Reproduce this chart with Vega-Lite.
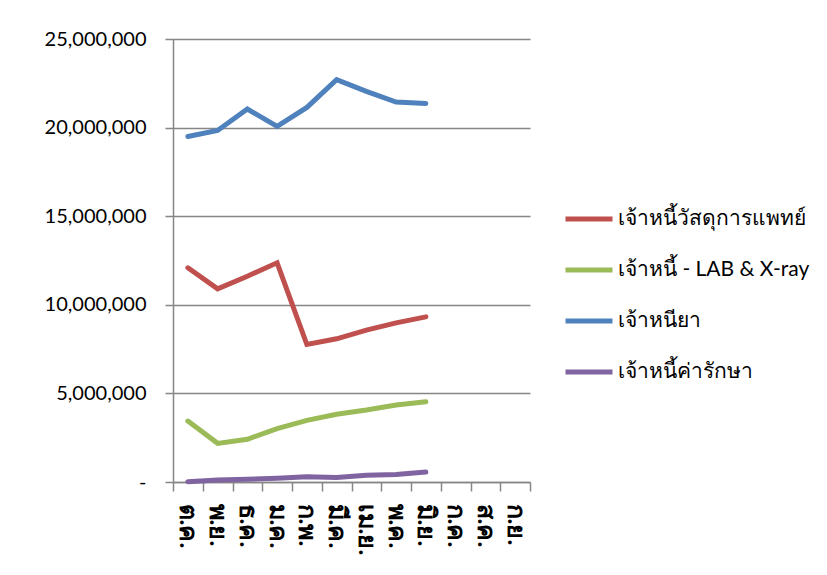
{
  "$schema": "https://vega.github.io/schema/vega-lite/v6.json",
  "width": 357,
  "height": 443,
  "autosize": {"type": "none"},
  "padding": {"left": 173, "top": 39, "right": 297, "bottom": 93},
  "background": "white",
  "config": {
    "view": {"stroke": null},
    "font": "Lato, Noto Sans, sans-serif"
  },
  "data": {
    "values": [
      {"month": "ต.ค.", "series": "เจ้าหนี้วัสดุการแพทย์", "value": 12090000},
      {"month": "พ.ย.", "series": "เจ้าหนี้วัสดุการแพทย์", "value": 10900000},
      {"month": "ธ.ค.", "series": "เจ้าหนี้วัสดุการแพทย์", "value": 11610000},
      {"month": "ม.ค.", "series": "เจ้าหนี้วัสดุการแพทย์", "value": 12370000},
      {"month": "ก.พ.", "series": "เจ้าหนี้วัสดุการแพทย์", "value": 7760000},
      {"month": "มี.ค.", "series": "เจ้าหนี้วัสดุการแพทย์", "value": 8080000},
      {"month": "เม.ย.", "series": "เจ้าหนี้วัสดุการแพทย์", "value": 8570000},
      {"month": "พ.ค.", "series": "เจ้าหนี้วัสดุการแพทย์", "value": 8980000},
      {"month": "มิ.ย.", "series": "เจ้าหนี้วัสดุการแพทย์", "value": 9320000},
      {"month": "ต.ค.", "series": "เจ้าหนี้ - LAB & X-ray", "value": 3440000},
      {"month": "พ.ย.", "series": "เจ้าหนี้ - LAB & X-ray", "value": 2180000},
      {"month": "ธ.ค.", "series": "เจ้าหนี้ - LAB & X-ray", "value": 2410000},
      {"month": "ม.ค.", "series": "เจ้าหนี้ - LAB & X-ray", "value": 3010000},
      {"month": "ก.พ.", "series": "เจ้าหนี้ - LAB & X-ray", "value": 3480000},
      {"month": "มี.ค.", "series": "เจ้าหนี้ - LAB & X-ray", "value": 3820000},
      {"month": "เม.ย.", "series": "เจ้าหนี้ - LAB & X-ray", "value": 4060000},
      {"month": "พ.ค.", "series": "เจ้าหนี้ - LAB & X-ray", "value": 4340000},
      {"month": "มิ.ย.", "series": "เจ้าหนี้ - LAB & X-ray", "value": 4530000},
      {"month": "ต.ค.", "series": "เจ้าหนียา", "value": 19500000},
      {"month": "พ.ย.", "series": "เจ้าหนียา", "value": 19840000},
      {"month": "ธ.ค.", "series": "เจ้าหนียา", "value": 21050000},
      {"month": "ม.ค.", "series": "เจ้าหนียา", "value": 20070000},
      {"month": "ก.พ.", "series": "เจ้าหนียา", "value": 21140000},
      {"month": "มี.ค.", "series": "เจ้าหนียา", "value": 22700000},
      {"month": "เม.ย.", "series": "เจ้าหนียา", "value": 22040000},
      {"month": "พ.ค.", "series": "เจ้าหนียา", "value": 21440000},
      {"month": "มิ.ย.", "series": "เจ้าหนียา", "value": 21360000},
      {"month": "ต.ค.", "series": "เจ้าหนี้ค่ารักษา", "value": 20000},
      {"month": "พ.ย.", "series": "เจ้าหนี้ค่ารักษา", "value": 110000},
      {"month": "ธ.ค.", "series": "เจ้าหนี้ค่ารักษา", "value": 150000},
      {"month": "ม.ค.", "series": "เจ้าหนี้ค่ารักษา", "value": 210000},
      {"month": "ก.พ.", "series": "เจ้าหนี้ค่ารักษา", "value": 300000},
      {"month": "มี.ค.", "series": "เจ้าหนี้ค่ารักษา", "value": 250000},
      {"month": "เม.ย.", "series": "เจ้าหนี้ค่ารักษา", "value": 380000},
      {"month": "พ.ค.", "series": "เจ้าหนี้ค่ารักษา", "value": 430000},
      {"month": "มิ.ย.", "series": "เจ้าหนี้ค่ารักษา", "value": 560000}
    ]
  },
  "mark": {"type": "line", "strokeWidth": 5, "strokeCap": "round", "strokeJoin": "miter"},
  "encoding": {
    "x": {
      "field": "month",
      "type": "ordinal",
      "bandPosition": 0.5,
      "scale": {
        "type": "band",
        "paddingInner": 0,
        "paddingOuter": 0,
        "domain": ["ต.ค.", "พ.ย.", "ธ.ค.", "ม.ค.", "ก.พ.", "มี.ค.", "เม.ย.", "พ.ค.", "มิ.ย.", "ก.ค.", "ส.ค.", "ก.ย."]
      },
      "axis": {
        "title": null,
        "tickBand": "extent",
        "grid": false,
        "labelAngle": 90,
        "labelAlign": "left",
        "labelBaseline": "middle",
        "labelFontSize": 25,
        "labelFontWeight": "bold",
        "labelColor": "#000000",
        "labelPadding": 12,
        "tickSize": 9,
        "tickColor": "#868686",
        "tickWidth": 1.5,
        "domainColor": "#868686",
        "domainWidth": 1.5
      }
    },
    "y": {
      "field": "value",
      "type": "quantitative",
      "scale": {"domain": [0, 25000000], "nice": false},
      "axis": {
        "title": null,
        "values": [0, 5000000, 10000000, 15000000, 20000000, 25000000],
        "labelExpr": "datum.value == 0 ? '-' : format(datum.value, ',')",
        "labelFontSize": 20,
        "labelColor": "#000000",
        "labelPadding": 19,
        "tickSize": 8,
        "tickColor": "#868686",
        "tickWidth": 1.5,
        "domainColor": "#868686",
        "domainWidth": 1.5,
        "grid": true,
        "gridColor": "#868686",
        "gridWidth": 1.5
      }
    },
    "color": {
      "field": "series",
      "type": "nominal",
      "sort": ["เจ้าหนี้วัสดุการแพทย์", "เจ้าหนี้ - LAB & X-ray", "เจ้าหนียา", "เจ้าหนี้ค่ารักษา"],
      "scale": {
        "domain": ["เจ้าหนี้วัสดุการแพทย์", "เจ้าหนี้ - LAB & X-ray", "เจ้าหนียา", "เจ้าหนี้ค่ารักษา"],
        "range": ["#C0504D", "#9BBB59", "#4F81BD", "#8064A2"]
      },
      "legend": {
        "title": null,
        "orient": "none",
        "legendX": 390,
        "legendY": 154,
        "symbolType": "stroke",
        "symbolSize": 2209,
        "symbolStrokeWidth": 5,
        "labelFontSize": 21,
        "labelColor": "#000000",
        "labelOffset": 3,
        "labelLimit": 400,
        "rowPadding": 15
      }
    }
  }
}
